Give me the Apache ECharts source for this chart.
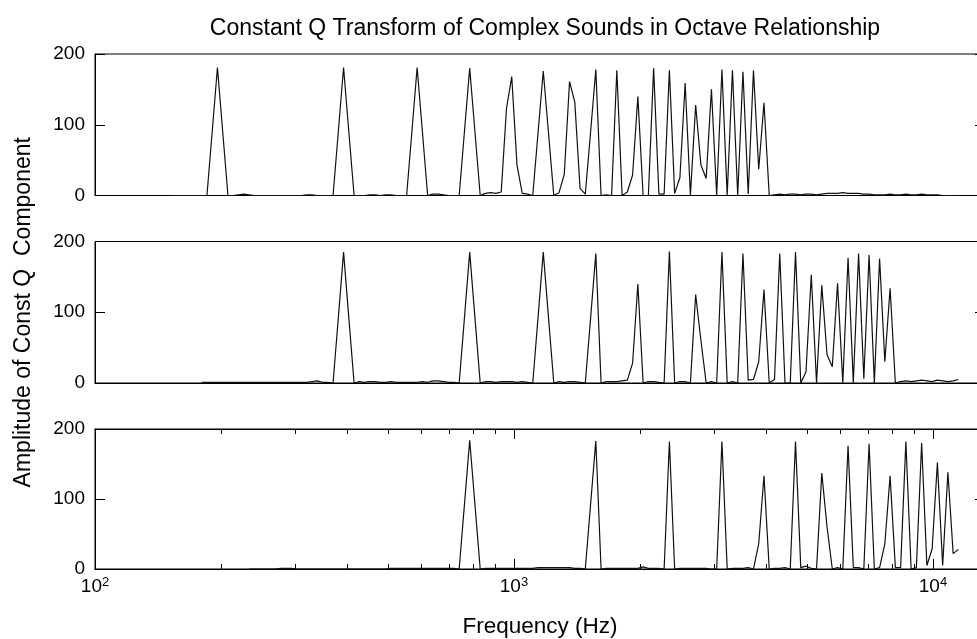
<!DOCTYPE html>
<html>
<head>
<meta charset="utf-8">
<script src="https://cdn.jsdelivr.net/npm/echarts@6/dist/echarts.min.js"></script>
<style>
  html, body { margin: 0; padding: 0; background: #fff; overflow: hidden; }
  #chart { width: 992px; height: 639px; }
</style>
</head>
<body>
<div id="chart"></div>
<script>
// Constant Q bins are spaced a quarter tone apart (24 per octave); bin 0 sits at 196 Hz.
const binsPerOctave = 24;
const refFreq = 196;

// First bin of each spectrum (all run to bin 141)
const firstBinLow = -9;
const firstBinMid = -3;
const firstBinHigh = 6;

// Amplitudes, one per bin: tone on G3 (196 Hz)
const cqtLow = [
  0, 0, 0, 0, 0, 0, 0,
  0, 90, 181, 90, 0,
  0, 1, 2, 1, 0, 0, 0, 0, 0, 0, 0, 0, 0, 0, 1, 1, 0, 0, 0,
  0, 90, 181, 90, 0,
  0, 0, 1, 1, 0, 1, 1, 0, 0,
  0, 90, 181, 90, 0,
  2, 2, 1, 0, 0,
  0, 90, 180, 90, 0,
  3, 4, 3, 5, 123, 168, 43, 3, 2, 0,
  88, 176, 88, 0,
  4, 30, 161, 132, 10, 2,
  89, 178, 0, 1, 0, 177, 0,
  5, 29, 140, 0,
  0, 180, 2, 2, 177, 3, 25, 159, 0,
  128, 43, 24, 150, 0, 178, 0, 177, 0, 175, 2, 177, 37, 131, 0,
  1, 2, 1, 2, 2, 1, 2, 2, 1, 2,
  3, 3, 3, 4, 3, 3, 3, 2, 2, 1,
  1, 1, 2, 1, 1, 2, 1, 1, 2, 1,
  1, 1, 0, 0, 0, 0
];

// Tone one octave up (392 Hz)
const cqtMid = [
  1, 1, 1, 1, 1, 1, 1, 1, 1, 1, 1, 1, 1, 1, 1, 1, 1, 1, 1, 1, 1, 2, 3, 1, 1,
  0, 92, 185, 92, 0,
  2, 1, 2, 2, 1, 1, 2, 1, 1,
  1, 1, 1, 2, 1, 3, 3, 2, 1, 1, 0,
  92, 185, 92, 0,
  2, 2, 1, 2, 2, 2, 1, 2, 1, 0,
  92, 185, 92, 0,
  2, 1, 2, 2, 1, 0,
  91, 183, 0,
  2, 2, 2, 3, 4, 28, 140, 0,
  2, 2, 1, 0, 186, 0,
  2, 2, 0, 125, 60, 0,
  2, 0, 185, 0,
  2, 0, 183, 4, 5, 30, 132, 0, 5,
  183, 0, 0, 185, 0, 16, 153, 0, 138, 40, 23, 141, 0, 177, 0, 183, 6, 181, 0, 176, 30, 134, 0,
  2, 3, 2, 3, 4, 3, 2, 4, 3, 2, 3, 5
];

// Tone two octaves up (784 Hz)
const cqtHigh = [
  0, 0, 0, 0, 0, 0, 1, 1, 1,
  0, 0, 0, 0, 0, 0, 0, 0, 0, 0, 0, 0, 0, 0, 0, 0, 0, 0,
  1, 1, 1, 1, 1, 1, 1, 1, 1, 1, 1, 1, 1, 0,
  92, 184, 92, 0,
  1, 1, 1, 1, 1, 1, 1, 1, 1, 1, 2, 2, 2, 2, 2, 2, 2, 1, 1, 0,
  92, 183, 0,
  1, 1, 1, 1, 1, 1, 1, 3, 1, 1, 1, 0,
  182, 0,
  1, 1, 1, 1, 1, 1, 0, 0,
  182, 0,
  1, 1, 1, 2, 0, 36, 133, 0,
  1, 1, 2, 0, 182, 2, 4, 1, 0, 137, 60, 0, 2, 0, 176, 2, 2, 0, 179, 0,
  2, 36, 133, 2, 2, 182, 0, 2, 180, 5, 29, 152, 5, 138, 22, 28
];

// Axis ticks
const yTicks = [0, 100, 200];
const decadeTicks = [100, 1000, 10000];
const minorTicks = [200, 300, 400, 500, 600, 700, 800, 900,
                    2000, 3000, 4000, 5000, 6000, 7000, 8000, 9000];
const freqMin = 100;
const freqMax = 13312;

const titleText = 'Constant Q Transform of Complex Sounds in Octave Relationship';
const yName = 'Amplitude of Const Q  Component';
const xName = 'Frequency (Hz)';

function binFreq(k) {
  return refFreq * Math.pow(2, k / binsPerOctave);
}
function toPairs(values, firstBin) {
  return values.map((a, i) => [binFreq(firstBin + i), a]);
}

const FONT = '"Liberation Sans", Arial, Helvetica, sans-serif';
const INK = '#000';
const LABEL_SIZE = 19;
const TITLE_SIZE = 23;
const NAME_SIZE = 22.5;

const gridLeft = 95, gridWidth = 890, gridHeight = 141.5;
const gridTops = [54, 241.5, 429];

const grids = gridTops.map(t => ({
  left: gridLeft, top: t, width: gridWidth, height: gridHeight,
  show: true, borderColor: INK, borderWidth: 1, backgroundColor: 'transparent'
}));

function baseX(gridIndex, extra) {
  return Object.assign({
    type: 'log', logBase: 10, gridIndex: gridIndex,
    min: freqMin, max: freqMax,
    axisLine: { show: true, onZero: false, lineStyle: { color: INK, width: 1 } },
    axisTick: { show: false },
    axisLabel: { show: false },
    splitLine: { show: false },
    minorTick: { show: false },
    minorSplitLine: { show: false }
  }, extra);
}

function tickAxis(position, len, values) {
  return baseX(2, {
    position: position,
    axisTick: { show: true, inside: true, length: len, customValues: values,
                lineStyle: { color: INK, width: 1 } }
  });
}

const xAxes = [
  baseX(0, {}),
  baseX(1, {}),
  baseX(2, {
    name: xName, nameLocation: 'middle', nameGap: 46,
    nameTextStyle: { fontFamily: FONT, fontSize: NAME_SIZE, color: INK },
    axisTick: { show: true, inside: true, length: 10, customValues: decadeTicks,
                lineStyle: { color: INK, width: 1 } },
    axisLabel: {
      show: true, customValues: decadeTicks, margin: 7,
      formatter: v => '{b|10}{s|' + Math.round(Math.log10(v)) + '}',
      rich: {
        b: { fontFamily: FONT, fontSize: LABEL_SIZE, color: INK },
        s: { fontFamily: FONT, fontSize: 13, color: INK, padding: [0, 0, 9, 0] }
      }
    }
  }),
  tickAxis('bottom', 5, minorTicks),
  tickAxis('top', 10, decadeTicks),
  tickAxis('top', 5, minorTicks)
];

const yAxes = [];
gridTops.forEach((t, g) => {
  const left = {
    type: 'value', gridIndex: g, min: yTicks[0], max: yTicks[yTicks.length - 1], interval: 100,
    axisLine: { show: true, lineStyle: { color: INK, width: 1 } },
    axisTick: { show: true, inside: true, length: 10, lineStyle: { color: INK, width: 1 } },
    axisLabel: { show: true, margin: 10, fontFamily: FONT, fontSize: LABEL_SIZE, color: INK },
    splitLine: { show: false }
  };
  if (g === 1) {
    left.name = yName;
    left.nameLocation = 'middle';
    left.nameRotate = 90;
    left.nameGap = 60;
    left.nameTextStyle = { fontFamily: FONT, fontSize: TITLE_SIZE, color: INK };
  }
  yAxes.push(left);
  yAxes.push({
    type: 'value', gridIndex: g, position: 'right',
    min: yTicks[0], max: yTicks[yTicks.length - 1], interval: 100,
    axisLine: { show: true, lineStyle: { color: INK, width: 1 } },
    axisTick: { show: true, inside: true, length: 10, lineStyle: { color: INK, width: 1 } },
    axisLabel: { show: false },
    splitLine: { show: false }
  });
});

const spectra = [
  { data: toPairs(cqtLow, firstBinLow), x: 0, y: 0 },
  { data: toPairs(cqtMid, firstBinMid), x: 1, y: 2 },
  { data: toPairs(cqtHigh, firstBinHigh), x: 2, y: 4 }
];

const chart = echarts.init(document.getElementById('chart'), null, { renderer: 'canvas' });
chart.setOption({
  animation: false,
  backgroundColor: '#fff',
  title: {
    text: titleText, left: 540, top: 12, textAlign: 'center',
    textStyle: { fontFamily: FONT, fontSize: TITLE_SIZE, fontWeight: 'normal', color: INK }
  },
  grid: grids,
  xAxis: xAxes,
  yAxis: yAxes,
  series: spectra.map(s => ({
    type: 'line', xAxisIndex: s.x, yAxisIndex: s.y, data: s.data,
    showSymbol: false, symbol: 'none', silent: true, clip: true,
    lineStyle: { color: '#111', width: 1.2 }
  }))
});
</script>
</body>
</html>
